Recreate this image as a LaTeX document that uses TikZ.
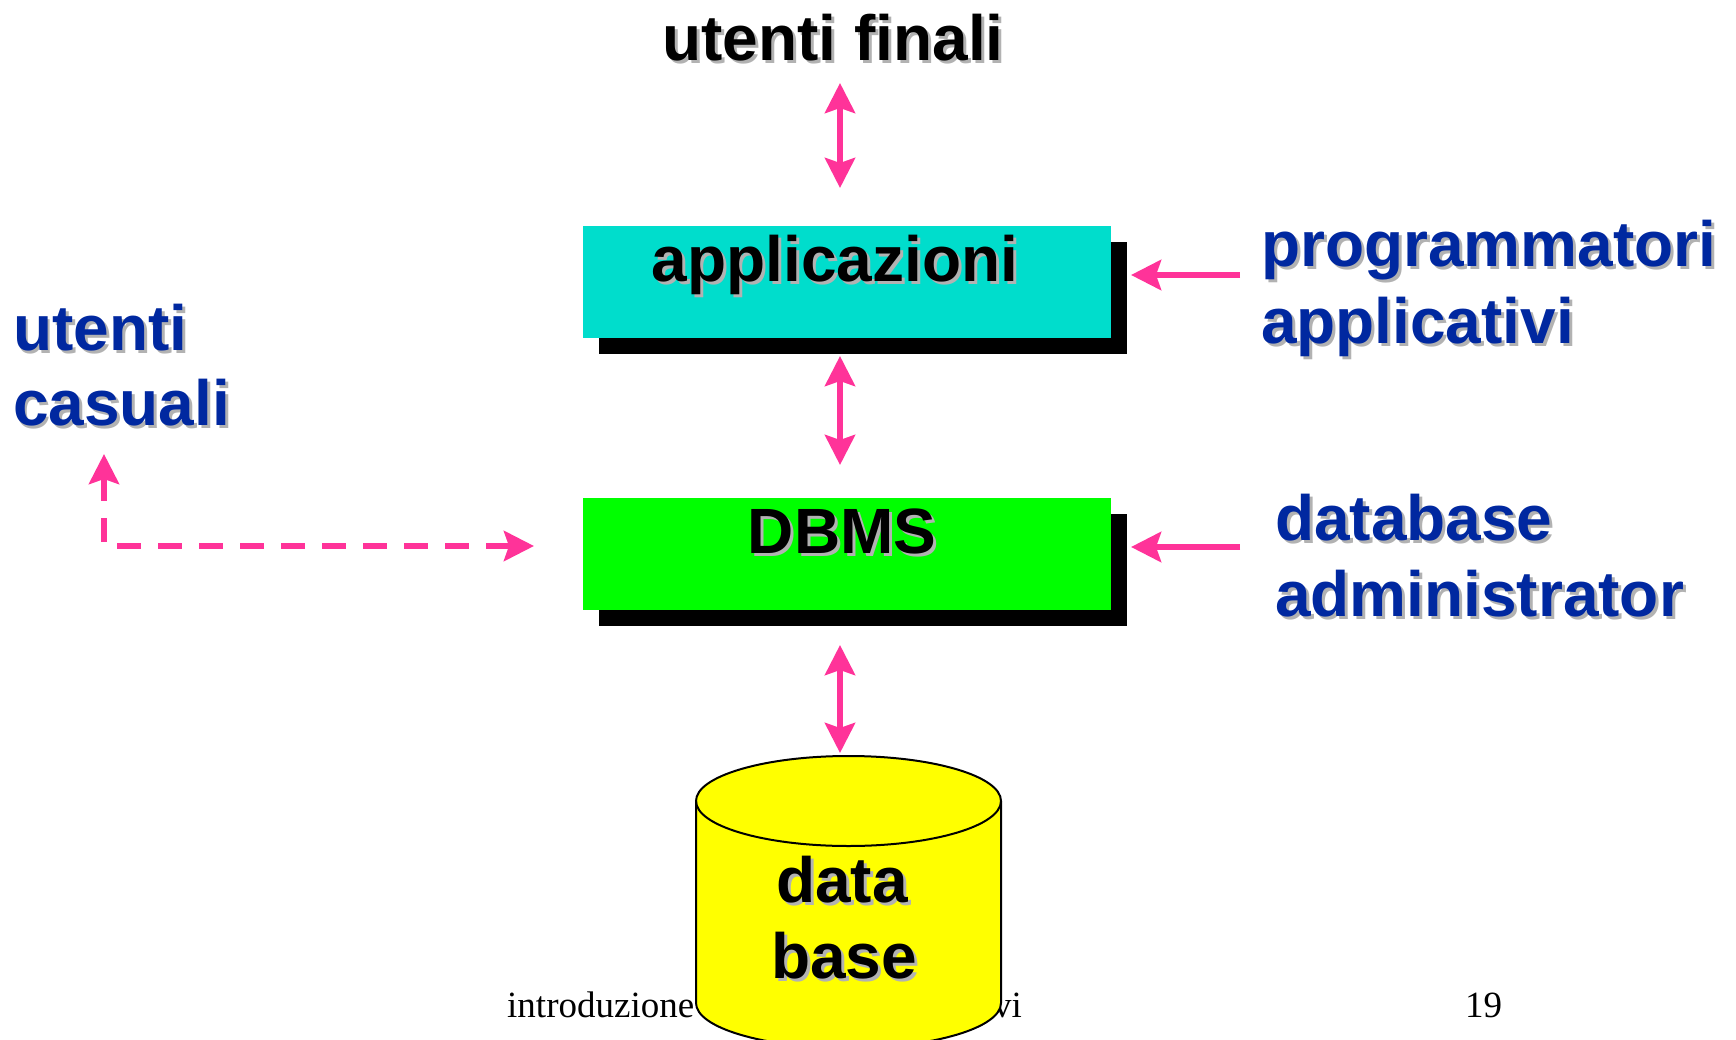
\documentclass[tikz,border=0pt]{standalone}
\usepackage{fontspec}
\setmainfont{Liberation Sans}
\newfontfamily\footerface{Liberation Serif}
\usetikzlibrary{arrows.meta}

\definecolor{linkpink}{RGB}{255,51,153}
\definecolor{roleblue}{RGB}{0,40,160}
\definecolor{appcyan}{RGB}{0,221,204}
\definecolor{dbmsgreen}{RGB}{0,255,0}
\definecolor{dbyellow}{RGB}{255,255,0}
\definecolor{textshade}{RGB}{178,178,178}

% bold label with a soft grey drop shadow: name, anchor, position, colour, text
\newcommand\shadedtext[5]{%
  \node[bigtext, text=textshade, anchor=#2, xshift=3pt, yshift=-3pt] (#1-shade) at (#3) {#5};
  \node[bigtext, text=#4, anchor=#2] (#1) at (#3) {#5};
}

\tikzset{
  bigtext/.style={font=\bfseries\fontsize{64}{77}\selectfont, inner sep=0pt, outer sep=0pt},
  footertext/.style={font=\footerface\fontsize{37}{44}\selectfont, inner sep=0pt, text=black},
  layerbox/.style={rectangle, inner sep=0pt, minimum width=528pt, minimum height=112pt},
  boxshadow/.style={layerbox, fill=black},
  link/.style={draw=linkpink, line width=6pt},
  tip/.tip={Stealth[length=30pt, width=30pt, inset=5pt]},
  twoway/.style={link, tip-tip},
  oneway/.style={link, -tip},
  casual/.style={link, tip-tip, dash pattern=on 24pt off 17pt},
}

\begin{document}
\begin{tikzpicture}[x=1pt, y=1pt]
  \clip (0,0) rectangle (1736,-1040);
  \fill[white] (0,0) rectangle (1736,-1040);

  % footer line
  \node[footertext, anchor=base west] (footer) at (507,-1017) {introduzione};
  \node[footertext, anchor=base east] (footer-end) at (1022,-1017) {vi};
  \node[footertext, anchor=base west] (pageno) at (1465,-1017) {19};

  % application layer
  \node[boxshadow] (app-shadow) at (863,-298) {};
  \node[layerbox, fill=appcyan] (app) at (847,-282) {};
  \shadedtext{app-label}{base}{835,-282}{black}{applicazioni}

  % DBMS layer
  \node[boxshadow] (dbms-shadow) at (863,-570) {};
  \node[layerbox, fill=dbmsgreen] (dbms) at (847,-554) {};
  \shadedtext{dbms-label}{base}{842,-553}{black}{DBMS}

  % database cylinder
  \path[fill=dbyellow, draw=black, line width=2pt]
    (696,-801) -- (696,-1003)
    arc[start angle=180, end angle=360, x radius=152.5, y radius=45]
    -- (1001,-801)
    arc[start angle=0, end angle=180, x radius=152.5, y radius=45] -- cycle;
  \draw[line width=2pt] (696,-801)
    arc[start angle=180, end angle=360, x radius=152.5, y radius=45];
  \node[inner sep=0pt, minimum width=305pt, minimum height=292pt] (db) at (848.5,-902) {};
  \shadedtext{db-label1}{base}{842,-902}{black}{data}
  \shadedtext{db-label2}{base}{844,-978}{black}{base}

  % actors
  \shadedtext{final-users}{base}{833,-61}{black}{utenti finali}
  \shadedtext{casual1}{base west}{13,-350}{roleblue}{utenti}
  \shadedtext{casual2}{base west}{13,-425}{roleblue}{casuali}
  \shadedtext{prog1}{base west}{1261,-267}{roleblue}{programmatori}
  \shadedtext{prog2}{base west}{1261,-343}{roleblue}{applicativi}
  \shadedtext{dba1}{base west}{1275,-540}{roleblue}{database}
  \shadedtext{dba2}{base west}{1275,-616}{roleblue}{administrator}

  % connector end points
  \coordinate (final-end) at (840,-83);
  \coordinate (app-top) at (840,-188);
  \coordinate (app-bottom) at (840,-356);
  \coordinate (dbms-top) at (840,-465);
  \coordinate (dbms-bottom) at (840,-645);
  \coordinate (db-top) at (840,-753);
  \coordinate (prog-end) at (1240,-275);
  \coordinate (app-right) at (1131,-275);
  \coordinate (dba-end) at (1240,-547);
  \coordinate (dbms-right) at (1131,-547);
  \coordinate (casual-end) at (104,-454);
  \coordinate (casual-corner) at (104,-546);
  \coordinate (dbms-left) at (534,-546);

  % connectors
  \draw[twoway] (final-end) -- (app-top);
  \draw[twoway] (app-bottom) -- (dbms-top);
  \draw[twoway] (dbms-bottom) -- (db-top);
  \draw[oneway] (prog-end) -- (app-right);
  \draw[oneway] (dba-end) -- (dbms-right);
  \draw[casual] (casual-end) -- (casual-corner) -- (dbms-left);
\end{tikzpicture}
\end{document}
